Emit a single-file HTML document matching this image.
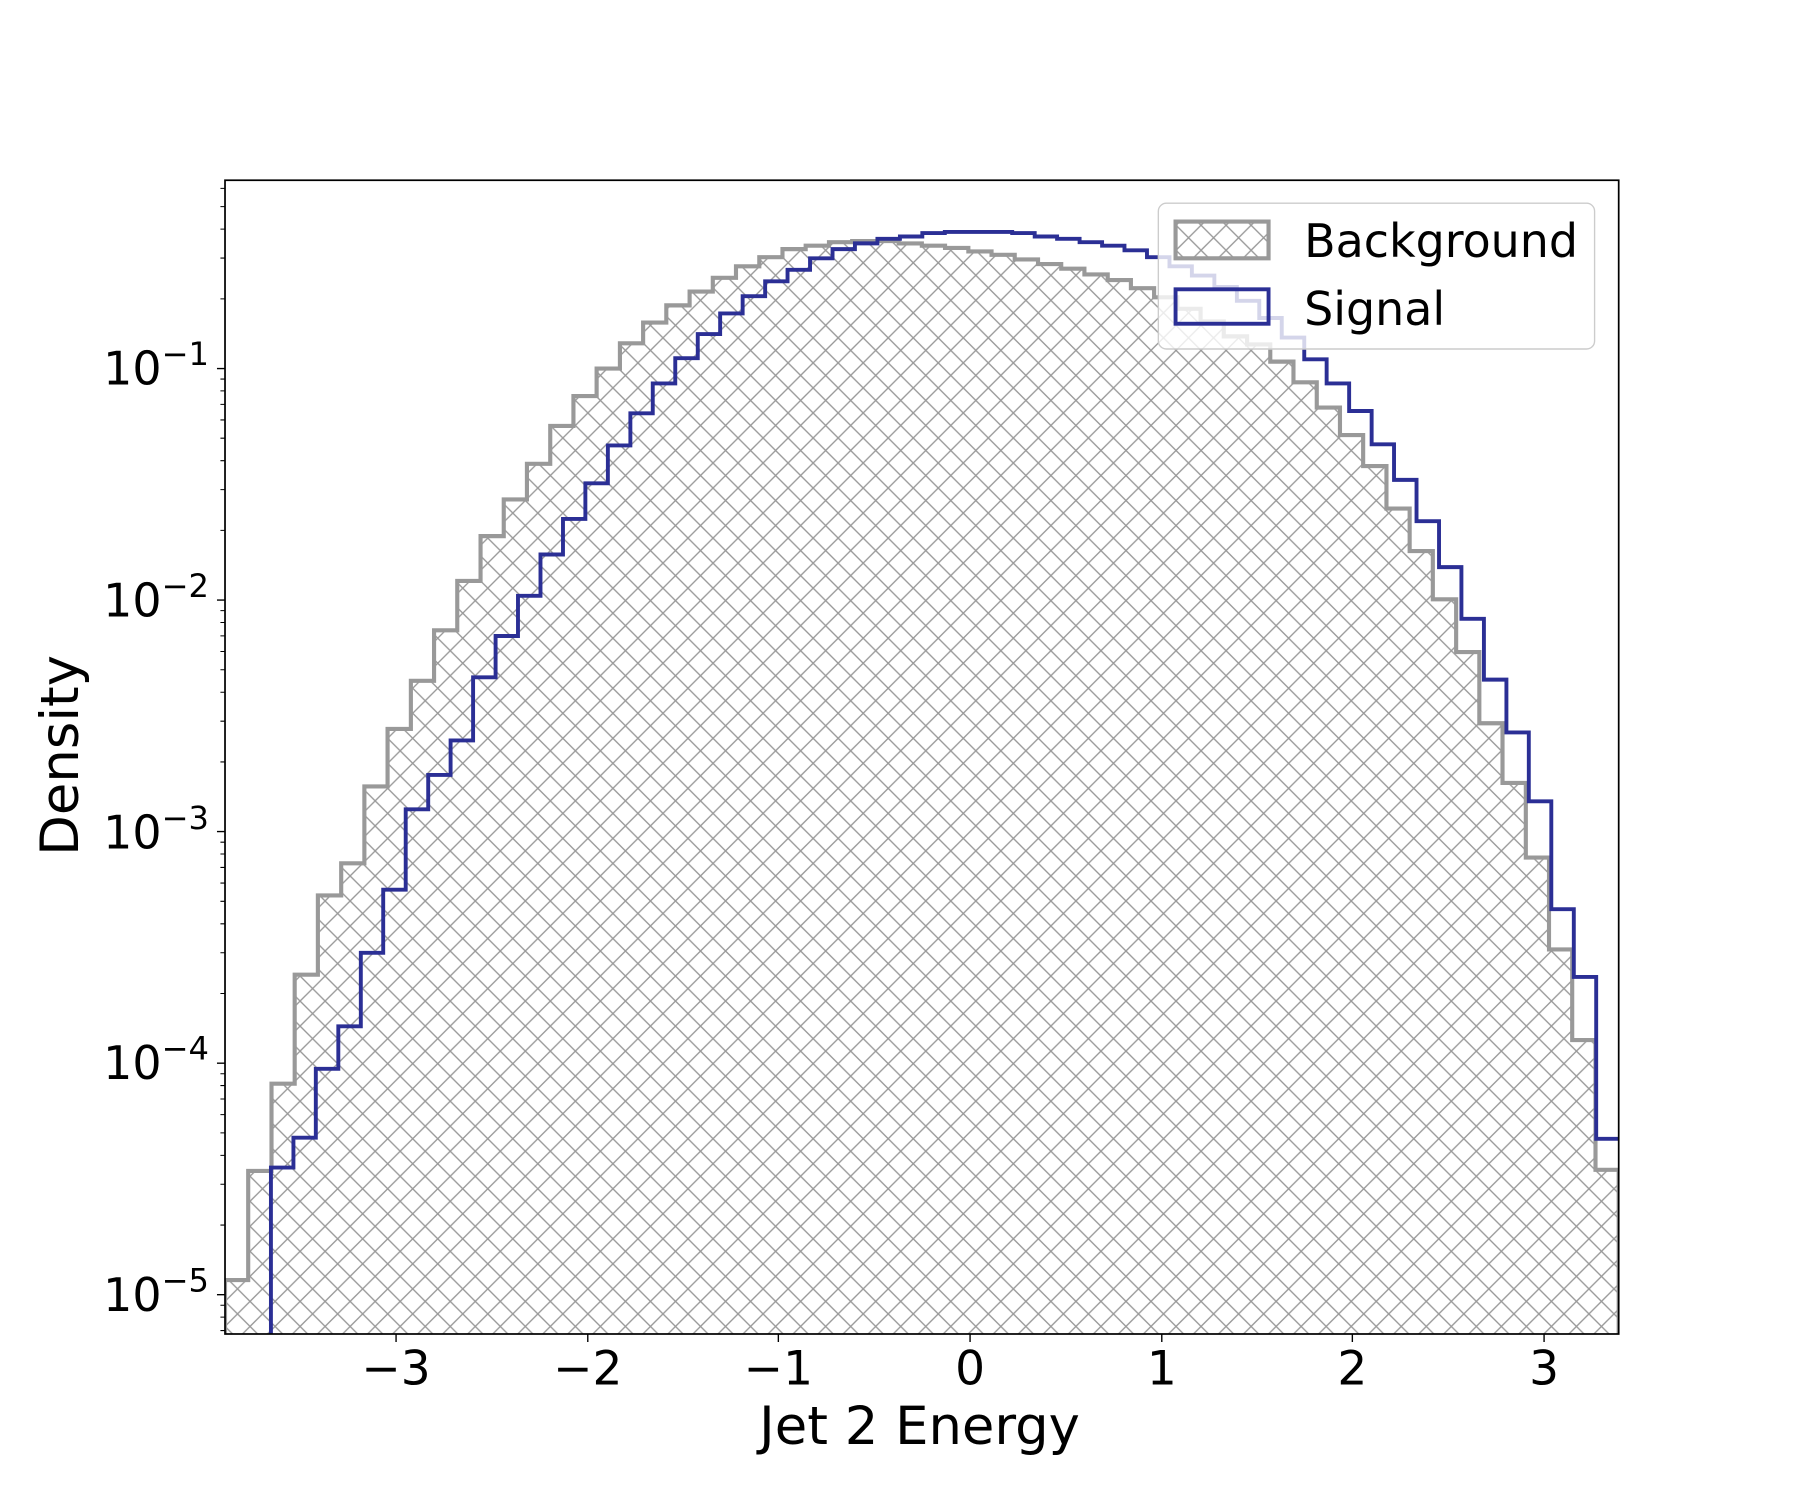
<!DOCTYPE html>
<html><head><meta charset="utf-8"><style>
html,body{margin:0;padding:0;background:#fff;}
svg{display:block;}
text{font-family:"DejaVu Sans","Liberation Sans",sans-serif;fill:#000;}
</style></head><body>
<svg width="1801" height="1500" viewBox="0 0 1568.8 1306.6" xmlns="http://www.w3.org/2000/svg">
<defs>
<pattern id="h" patternUnits="userSpaceOnUse" width="21.8" height="21.8" x="196" y="0">
<path d="M0 0L21.8 21.8M21.8 0L0 21.8M-2 19.8L2 23.8M19.8 -2L23.8 2M-2 2L2 -2M19.8 23.8L23.8 19.8" stroke="#999" stroke-width="1.2" fill="none"/>
</pattern>
<clipPath id="c"><rect x="196" y="157" width="1214" height="1005"/></clipPath>
</defs>
<rect width="1568.8" height="1306.6" fill="#fff"/>
<g clip-path="url(#c)">
<path fill="url(#h)" stroke="#999" stroke-width="3.6" d="M196 1164V1115H216.2V1020H236.5V944H256.7V849H276.9V780H297.2V752H317.4V685H337.6V635H357.9V593H378.1V549H398.3V506H418.6V467H438.8V435H459V404H479.3V371H499.5V345H519.7V321H540V299H560.2V281H580.4V266H600.7V254H620.9V242H641.1V232H661.4V224H681.6V217H701.8V214H722.1V211H742.3V210H762.5V210H782.8V212H803V214H823.2V216H843.5V219H863.7V222H883.9V226H904.2V230H924.4V234H944.6V239H964.9V244H985.1V251H1005.3V259H1025.6V269H1045.8V280H1066V293H1086.3V300H1106.5V315H1126.7V333H1147V355H1167.2V379H1187.4V406H1207.7V443H1227.9V480H1248.1V522H1268.4V568H1288.6V630H1308.8V682H1329.1V747H1349.3V827H1369.5V906H1389.8V1019H1410V1164"/>
<path fill="none" stroke="#2b2f95" stroke-width="3.4" d="M236 1164V1017H255.6V991H275.1V931H294.7V894H314.3V830H333.8V775H353.4V705H373V675H392.5V645H412.1V590H431.7V554H451.2V519H470.8V483H490.4V452H509.9V421H529.5V388H549.1V360H568.6V334H588.2V312H607.8V291H627.3V273H646.9V258H666.5V245H686V235H705.6V225H725.2V217H744.7V212H764.3V208H783.9V206H803.4V203H823V202H842.6V202H862.1V202H881.7V203H901.3V206H920.8V208H940.4V211H960V214H979.5V218H999.1V224H1018.7V232H1038.2V240H1057.8V250H1077.4V262H1096.9V277H1116.5V294H1136.1V313H1155.6V334H1175.2V358H1194.8V387H1214.3V418H1233.9V454H1253.5V494H1273V539H1292.6V592H1312.2V638H1331.7V698H1351.3V792H1370.9V851H1390.4V992H1412V1164"/>
</g>
<g stroke="#000" stroke-width="1.2">
<path d="M345 1162v7M512 1162v7M678 1162v7M845 1162v7M1012 1162v7M1178 1162v7M1345 1162v7"/>
<path d="M196 1127.8h-7M196 926.1h-7M196 724.4h-7M196 522.7h-7M196 321h-7"/>
<path stroke-width="0.9" d="M196 1159h-4M196 1147.3h-4M196 1137h-4M196 1067.1h-4M196 1031.6h-4M196 1006.4h-4M196 986.8h-4M196 970.9h-4M196 957.3h-4M196 945.6h-4M196 935.3h-4M196 865.4h-4M196 829.9h-4M196 804.7h-4M196 785.1h-4M196 769.2h-4M196 755.6h-4M196 743.9h-4M196 733.6h-4M196 663.7h-4M196 628.2h-4M196 603h-4M196 583.4h-4M196 567.5h-4M196 553.9h-4M196 542.2h-4M196 531.9h-4M196 462h-4M196 426.5h-4M196 401.3h-4M196 381.7h-4M196 365.8h-4M196 352.2h-4M196 340.5h-4M196 330.2h-4M196 260.3h-4M196 224.8h-4M196 199.6h-4M196 180h-4M196 164.1h-4"/>
</g>
<rect x="196" y="157" width="1214" height="1005" fill="none" stroke="#000" stroke-width="1.5"/>
<rect x="1009" y="177" width="380" height="127" rx="7" fill="#fff" fill-opacity="0.8" stroke="#ccc" stroke-width="1.2"/>
<rect x="1024" y="193" width="81" height="32" fill="url(#h)" stroke="#999" stroke-width="3.6"/>
<rect x="1024" y="252" width="81" height="30" fill="none" stroke="#2b2f95" stroke-width="3.4"/>
<text x="1136" y="224" font-size="40">Background</text>
<text x="1136" y="283" font-size="40">Signal</text>
<g font-size="41" text-anchor="middle">
<text x="345" y="1206">−3</text><text x="512" y="1206">−2</text><text x="678" y="1206">−1</text><text x="845" y="1206">0</text><text x="1012" y="1206">1</text><text x="1178" y="1206">2</text><text x="1345" y="1206">3</text>
</g>
<g font-size="40" text-anchor="end">
<text x="182" y="1142">10<tspan font-size="28" dy="-17">−5</tspan></text>
<text x="182" y="940">10<tspan font-size="28" dy="-17">−4</tspan></text>
<text x="182" y="739">10<tspan font-size="28" dy="-17">−3</tspan></text>
<text x="182" y="537">10<tspan font-size="28" dy="-17">−2</tspan></text>
<text x="182" y="335">10<tspan font-size="28" dy="-17">−1</tspan></text>
</g>
<text x="801" y="1258" font-size="46" text-anchor="middle">Jet 2 Energy</text>
<text transform="translate(68 658) rotate(-90)" font-size="46" text-anchor="middle">Density</text>
</svg>
</body></html>
